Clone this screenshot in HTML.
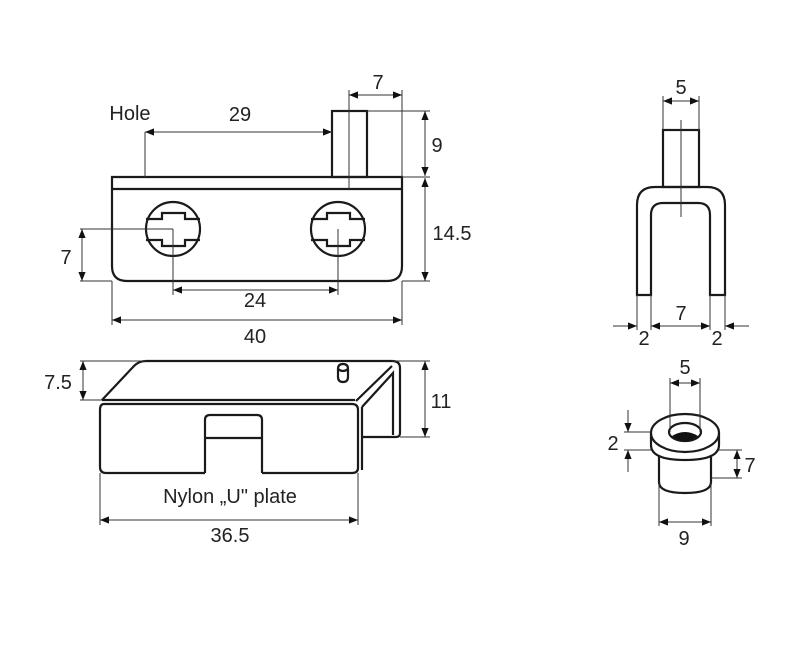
<!DOCTYPE html>
<html><head><meta charset="utf-8"><style>
html,body{margin:0;padding:0;background:#fff;}
svg{display:block;}
text{font-family:"Liberation Sans",sans-serif;fill:#222;}
</style></head><body>
<svg width="800" height="669" viewBox="0 0 800 669" xmlns="http://www.w3.org/2000/svg">
<defs>
<marker id="a" viewBox="0 0 10 10" refX="10" refY="5" markerWidth="9" markerHeight="9" markerUnits="userSpaceOnUse" orient="auto-start-reverse"><path d="M0,1 L10,5 L0,9 z" fill="#111"/></marker>
</defs>
<g fill="none" stroke="#1a1a1a" stroke-width="2.2">
<path d="M112,177 H402 V266 Q402,281 387,281 H127 Q112,281 112,266 Z"/>
<line x1="112" y1="189" x2="402" y2="189"/>
<rect x="332" y="111" width="35" height="66"/>
<circle cx="173" cy="229" r="27"/>
<circle cx="338" cy="229" r="27"/>
<path d="M146,219 H162 V213 H185 V219 H200 M146,240 H162 V246 H185 V240 H200"/>
<path d="M311,219 H327 V213 H350 V219 H365 M311,240 H327 V246 H350 V240 H365"/>
<path d="M102,400 L134,366 Q139,361 146,361 H392 Q400,361 400,368 V433 Q400,437 396,437 H363"/>
<path d="M102,400 H355"/>
<path d="M104,404 H352 Q358,404 358,410 V468 Q358,473 352,473 H262 M205,473 H106 Q100,473 100,467 V410 Q100,404 104,404"/>
<path d="M205,473 V420 Q205,415 210,415 H257 Q262,415 262,420 V473"/>
<line x1="205" y1="438" x2="262" y2="438"/>
<path d="M356,401 L392,366 M362,407 L393,373 V435 M362,407 V470"/>
<path d="M338,369 Q338,364 343,364 Q348,364 348,369 V377 Q348,382 343,382 Q338,382 338,377 Z M338,369 Q343,373 348,369"/>
<rect x="663" y="130" width="36" height="57"/>
<path d="M637,295 V205 Q637,187 655,187 H707 Q725,187 725,205 V295 H710 V215 Q710,203 698,203 H663 Q651,203 651,215 V295 Z"/>
<path d="M659,455 V482 Q659,493 685,493 Q711,493 711,482 V455"/>
<path d="M651,433 V445 Q651,460 685,460 Q719,460 719,445 V433"/>
<ellipse cx="685" cy="433" rx="34" ry="19"/>
<ellipse cx="685" cy="432" rx="16" ry="9"/>
</g>
<path d="M672,436 Q685,428 698,436 Q692,441 685,441 Q678,441 672,436 Z" fill="#111"/>
<g fill="none" stroke="#333" stroke-width="1">
<line x1="349" y1="90" x2="349" y2="189"/>
<line x1="402" y1="90" x2="402" y2="177"/>
<line x1="145" y1="132" x2="145" y2="177"/>
<line x1="367" y1="111" x2="430" y2="111"/>
<line x1="402" y1="177" x2="430" y2="177"/>
<line x1="402" y1="281" x2="430" y2="281"/>
<line x1="80" y1="229" x2="173" y2="229"/>
<line x1="80" y1="281" x2="112" y2="281"/>
<line x1="173" y1="229" x2="173" y2="295"/>
<line x1="338" y1="229" x2="338" y2="295"/>
<line x1="112" y1="281" x2="112" y2="325"/>
<line x1="402" y1="281" x2="402" y2="325"/>
<line x1="80" y1="361" x2="146" y2="361"/>
<line x1="80" y1="400" x2="102" y2="400"/>
<line x1="392" y1="361" x2="430" y2="361"/>
<line x1="400" y1="437" x2="430" y2="437"/>
<line x1="100" y1="473" x2="100" y2="525"/>
<line x1="358" y1="473" x2="358" y2="525"/>
<line x1="663" y1="96" x2="663" y2="130"/>
<line x1="699" y1="96" x2="699" y2="130"/>
<line x1="681" y1="120" x2="681" y2="217"/>
<line x1="637" y1="295" x2="637" y2="330"/>
<line x1="651" y1="295" x2="651" y2="330"/>
<line x1="710" y1="295" x2="710" y2="330"/>
<line x1="725" y1="295" x2="725" y2="330"/>
<line x1="670" y1="378" x2="670" y2="432"/>
<line x1="700" y1="378" x2="700" y2="432"/>
<line x1="624" y1="432" x2="651" y2="432"/>
<line x1="624" y1="450" x2="651" y2="450"/>
<line x1="719" y1="450" x2="742" y2="450"/>
<line x1="711" y1="478" x2="742" y2="478"/>
<line x1="659" y1="482" x2="659" y2="526"/>
<line x1="711" y1="482" x2="711" y2="526"/>
<g marker-start="url(#a)" marker-end="url(#a)">
<line x1="349" y1="95" x2="402" y2="95"/>
<line x1="145" y1="132" x2="332" y2="132"/>
<line x1="425" y1="111" x2="425" y2="176"/>
<line x1="425" y1="178" x2="425" y2="281"/>
<line x1="82" y1="229" x2="82" y2="281"/>
<line x1="173" y1="290" x2="338" y2="290"/>
<line x1="112" y1="320" x2="402" y2="320"/>
<line x1="83" y1="361" x2="83" y2="400"/>
<line x1="425" y1="361" x2="425" y2="437"/>
<line x1="100" y1="520" x2="358" y2="520"/>
<line x1="663" y1="101" x2="699" y2="101"/>
<line x1="651" y1="326" x2="710" y2="326"/>
<line x1="670" y1="383" x2="700" y2="383"/>
<line x1="737" y1="450" x2="737" y2="478"/>
<line x1="659" y1="522" x2="711" y2="522"/>
</g>
<g marker-end="url(#a)">
<line x1="613" y1="326" x2="637" y2="326"/>
<line x1="749" y1="326" x2="725" y2="326"/>
<line x1="628" y1="410" x2="628" y2="432"/>
<line x1="628" y1="472" x2="628" y2="450"/>
</g>
</g>
<g font-size="20" text-anchor="middle">
<text x="130" y="120">Hole</text>
<text x="240" y="121">29</text>
<text x="378" y="89">7</text>
<text x="437" y="152">9</text>
<text x="452" y="240">14.5</text>
<text x="66" y="264">7</text>
<text x="255" y="307">24</text>
<text x="255" y="343">40</text>
<text x="58" y="389">7.5</text>
<text x="441" y="408">11</text>
<text x="230" y="503">Nylon „U" plate</text>
<text x="230" y="542">36.5</text>
<text x="681" y="94">5</text>
<text x="681" y="320">7</text>
<text x="644" y="345">2</text>
<text x="717" y="345">2</text>
<text x="685" y="374">5</text>
<text x="613" y="450">2</text>
<text x="750" y="472">7</text>
<text x="684" y="545">9</text>
</g>
</svg>
</body></html>
